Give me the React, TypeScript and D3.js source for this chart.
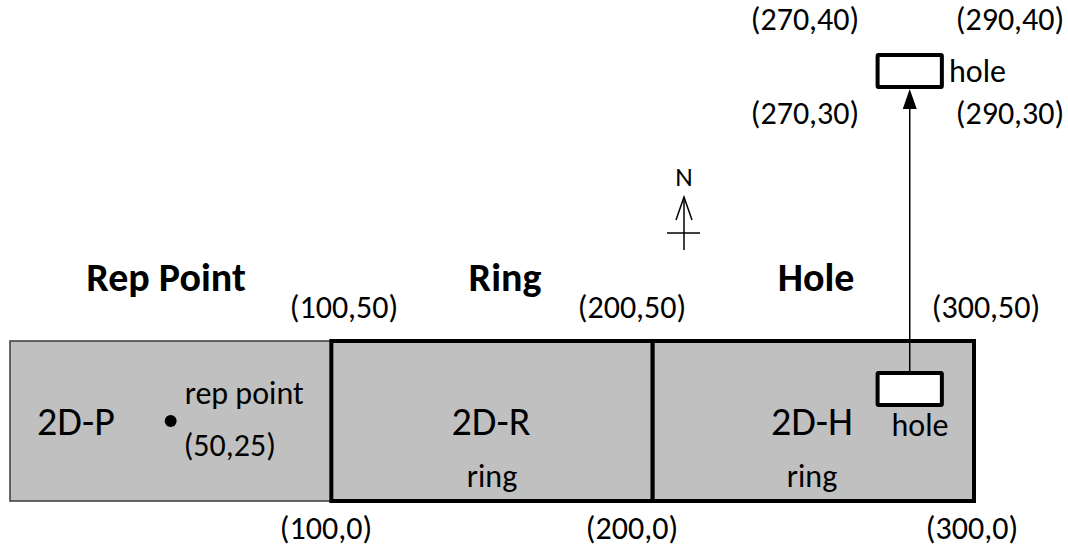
import React from 'react';
import * as d3 from 'd3';

// regions along the strip, in map units
const regions = ['Rep Point', 'Ring', 'Hole'];
const regionX0 = [0, 100, 200];
const regionX1 = [100, 200, 300];
const regionCodes = ['2D-P', '2D-R', '2D-H'];
const stripY = [0, 50];

// representative point and hole (map units)
const repPoint = [50, 25];
const holeX = [270, 290];
const holeY = [30, 40];

// corner labels
const topCorners = ['(100,50)', '(200,50)', '(300,50)'];
const bottomCorners = ['(100,0)', '(200,0)', '(300,0)'];
const holeCornerTop = ['(270,40)', '(290,40)'];
const holeCornerBottom = ['(270,30)', '(290,30)'];

const W = 1068;
const H = 551;
const FONT = 'Carlito, Lato, sans-serif';
const SMALL = 32;

const App = () => {
  const x = d3.scaleLinear().domain([0, 300]).range([10, 974]);
  const y = d3.scaleLinear().domain([0, 50]).range([501, 341]);

  // the enlarged hole is a copy of the inner one moved up
  const liftY = -318;
  const holeCx = x((holeX[0] + holeX[1]) / 2);
  const topHoleBottom = y(holeY[0]) + liftY;

  return (
    <svg width={W} height={H} style={{ position: 'absolute', left: 0, top: 0 }} fontFamily={FONT}>
      <rect width={W} height={H} fill="#fff" />

      {/* rep point region: thin outline */}
      <rect x={x(regionX0[0])} y={y(stripY[1])} width={x(regionX1[0]) - x(regionX0[0])}
        height={y(stripY[0]) - y(stripY[1])} fill="#c0c0c0" stroke="#3a3a3a" strokeWidth={1.5} />
      {/* ring and hole regions: heavy outline */}
      {[1, 2].map((i) => (
        <rect key={i} x={x(regionX0[i])} y={y(stripY[1])} width={x(regionX1[i]) - x(regionX0[i])}
          height={y(stripY[0]) - y(stripY[1])} fill="#c0c0c0" stroke="#000" strokeWidth={4} />
      ))}

      {/* inner hole */}
      <rect x={x(holeX[0])} y={y(holeY[1])} width={x(holeX[1]) - x(holeX[0])}
        height={y(holeY[0]) - y(holeY[1])} fill="#fff" stroke="#000" strokeWidth={4} rx={1} />
      {/* lifted hole */}
      <rect x={x(holeX[0])} y={y(holeY[1]) + liftY} width={x(holeX[1]) - x(holeX[0])}
        height={y(holeY[0]) - y(holeY[1])} fill="#fff" stroke="#000" strokeWidth={4} rx={1} />

      {/* arrow from inner hole to lifted hole */}
      <line x1={holeCx} x2={holeCx} y1={y(holeY[1]) - 2} y2={topHoleBottom + 20} stroke="#000" strokeWidth={1.5} />
      <path d={`M${holeCx},${topHoleBottom + 2} L${holeCx - 7},${topHoleBottom + 22} L${holeCx + 7},${topHoleBottom + 22} Z`} fill="#000" />

      {/* rep point */}
      <circle cx={x(repPoint[0])} cy={y(repPoint[1])} r={6} fill="#000" />
      <text x={x(repPoint[0]) + 14} y={404} fontSize={SMALL}>rep point</text>
      <text x={x(repPoint[0]) + 13} y={456} fontSize={SMALL}>(50,25)</text>

      {/* region codes */}
      <text x={76} y={435} fontSize={40} textAnchor="middle">{regionCodes[0]}</text>
      <text x={491} y={435} fontSize={40} textAnchor="middle">{regionCodes[1]}</text>
      <text x={812} y={435} fontSize={40} textAnchor="middle">{regionCodes[2]}</text>
      <text x={492} y={487} fontSize={SMALL} textAnchor="middle">ring</text>
      <text x={812} y={487} fontSize={SMALL} textAnchor="middle">ring</text>
      <text x={920} y={436} fontSize={SMALL} textAnchor="middle">hole</text>
      <text x={949} y={82} fontSize={SMALL}>hole</text>

      {/* region headings */}
      <text x={166} y={291} fontSize={40} fontWeight="bold" textAnchor="middle">{regions[0]}</text>
      <text x={505} y={291} fontSize={40} fontWeight="bold" textAnchor="middle">{regions[1]}</text>
      <text x={816} y={291} fontSize={40} fontWeight="bold" textAnchor="middle">{regions[2]}</text>

      {/* corner coordinates */}
      {topCorners.map((t, i) => (
        <text key={t} x={[344, 632, 986][i]} y={318} fontSize={SMALL} textAnchor="middle">{t}</text>
      ))}
      {bottomCorners.map((t, i) => (
        <text key={t} x={[326, 632, 972][i]} y={539} fontSize={SMALL} textAnchor="middle">{t}</text>
      ))}
      {holeCornerTop.map((t, i) => (
        <text key={t} x={[805, 1010][i]} y={30} fontSize={SMALL} textAnchor="middle">{t}</text>
      ))}
      {holeCornerBottom.map((t, i) => (
        <text key={t} x={[805, 1010][i]} y={124} fontSize={SMALL} textAnchor="middle">{t}</text>
      ))}

      {/* north arrow */}
      <text x={684} y={186} fontSize={27} textAnchor="middle">N</text>
      <line x1={684} x2={684} y1={197} y2={250} stroke="#000" strokeWidth={1.5} />
      <line x1={667} x2={700} y1={233} y2={233} stroke="#000" strokeWidth={1.5} />
      <path d="M676,220 L684,197 L692,220" fill="none" stroke="#000" strokeWidth={1.5} />
    </svg>
  );
};

export default App;
